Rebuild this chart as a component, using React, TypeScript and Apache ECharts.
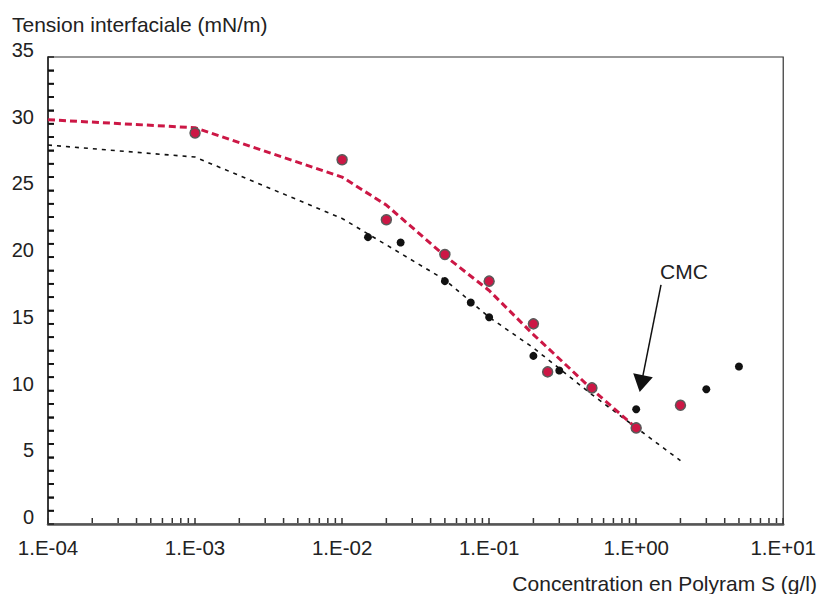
import React, { useEffect, useRef } from "react";
import * as echarts from "echarts";

// Measured points (concentration g/l, interfacial tension mN/m)
const redConc = [0.001, 0.01, 0.02, 0.05, 0.1, 0.2, 0.25, 0.5, 1, 2];
const redTension = [29.3, 27.3, 22.8, 20.2, 18.2, 15.0, 11.4, 10.2, 7.2, 8.9];
const blackConc = [0.015, 0.025, 0.05, 0.075, 0.1, 0.2, 0.3, 1, 3, 5];
const blackTension = [21.5, 21.1, 18.2, 16.6, 15.5, 12.6, 11.5, 8.6, 10.1, 11.8];

// Fitted curves
const redFitConc = [0.0001, 0.001, 0.01, 0.02, 0.05, 0.1, 0.2, 0.5, 1];
const redFitTension = [30.3, 29.7, 26.0, 23.9, 20.1, 17.5, 14.2, 10.1, 7.2];
const blackFitConc = [0.0001, 0.001, 0.01, 0.05, 0.1, 0.2, 0.5, 2];
const blackFitTension = [28.4, 27.5, 22.9, 18.3, 15.5, 13.2, 9.7, 4.75];

// Axis
const xTickValues = [0.0001, 0.001, 0.01, 0.1, 1, 10];
const xTickLabels = ["1.E-04", "1.E-03", "1.E-02", "1.E-01", "1.E+00", "1.E+01"];

// CMC arrow (start, arrowhead centre) in data coordinates
const cmcArrowStart = [1.475, 17.92];
const cmcArrowEnd = [1.084, 10.52];

const FONT = "'Liberation Sans', Arial, Helvetica, sans-serif";
const RED = "#cc1745";
const INK = "#222";

const zip = (a: number[], b: number[]) => a.map((v, i) => [v, b[i]]);

const xMinorTicks: number[] = [];
for (let e = -4; e < 1; e++) {
  for (let m = 2; m <= 9; m++) xMinorTicks.push(m * Math.pow(10, e));
}
const yTicks: number[] = [];
for (let v = 1; v <= 34; v++) yTicks.push(v);

export default function App() {
  const ref = useRef<HTMLDivElement>(null);
  useEffect(() => {
    if (!ref.current) return;
    const chart = echarts.init(ref.current, null, { renderer: "svg" });
    chart.setOption({
      animation: false,
      backgroundColor: "#fff",
      textStyle: { fontFamily: FONT },
      title: {
        text: "Tension interfaciale (mN/m)",
        left: 12,
        top: 14,
        padding: 0,
        textStyle: { fontFamily: FONT, fontSize: 21, fontWeight: "normal", color: INK },
      },
      grid: {
        left: 48,
        right: 32,
        top: 57,
        bottom: 70,
        show: true,
        borderColor: "#333",
        borderWidth: 1.2,
        backgroundColor: "transparent",
      },
      xAxis: {
        type: "log",
        logBase: 10,
        min: 0.0001,
        max: 10,
        splitLine: { show: false },
        axisLine: { show: true, lineStyle: { color: "#555", width: 2.5 } },
        axisTick: { show: true, inside: true, length: 6, lineStyle: { color: "#333", width: 1.5 } },
        axisLabel: {
          margin: 13,
          fontSize: 20.5,
          color: INK,
          fontFamily: FONT,
          formatter: (v: number) => {
            const i = xTickValues.findIndex((t) => Math.abs(Math.log10(t) - Math.log10(v)) < 1e-6);
            return i >= 0 ? xTickLabels[i] : "";
          },
        },
      },
      yAxis: {
        type: "value",
        min: 0,
        max: 35,
        interval: 5,
        splitLine: { show: false },
        axisLine: { show: true, lineStyle: { color: "#222", width: 1.5 } },
        axisTick: { show: true, inside: true, length: 6, lineStyle: { color: "#222", width: 1.5 } },
        minorTick: { show: true, splitNumber: 5, length: 6, lineStyle: { color: "#222", width: 1.5 } },
        axisLabel: {
          margin: 14,
          fontSize: 20,
          color: INK,
          fontFamily: FONT,
          verticalAlign: "bottom",
          lineHeight: 14,
        },
      },
      graphic: [
        {
          type: "text",
          right: 2,
          top: 573,
          style: {
            text: "Concentration en Polyram S (g/l)",
            font: `21px ${FONT}`,
            fill: INK,
          },
        },
        {
          type: "text",
          left: 660,
          top: 261,
          style: { text: "CMC", font: `21px ${FONT}`, fill: INK },
        },
      ],
      series: [
        {
          type: "custom",
          silent: true,
          clip: false,
          z: 5,
          data: xMinorTicks.map((v) => [v, 0]),
          renderItem: (_p: any, api: any) => {
            const pt = api.coord([api.value(0), 0]);
            return {
              type: "line",
              shape: { x1: pt[0], y1: pt[1] - 1, x2: pt[0], y2: pt[1] - 6 },
              style: { stroke: "#333", lineWidth: 1.5 },
            };
          },
        },
        {
          type: "scatter",
          silent: true,
          clip: false,
          z: 6,
          data: yTicks.map((v) => [0.0001, v]),
          symbol: "rect",
          symbolSize: [6, 1.8],
          symbolOffset: [3, 0],
          itemStyle: { color: "#111", opacity: 1 },
        },
        {
          type: "line",
          data: zip(blackFitConc, blackFitTension),
          symbol: "none",
          lineStyle: { color: "#111", width: 1.6, type: [4, 5] },
          z: 2,
        },
        {
          type: "line",
          data: zip(redFitConc, redFitTension),
          symbol: "none",
          lineStyle: { color: RED, width: 3, type: [7, 4] },
          z: 3,
        },
        {
          type: "scatter",
          data: zip(blackConc, blackTension),
          symbol: "circle",
          symbolSize: 8,
          itemStyle: { color: "#111", opacity: 1 },
          z: 4,
        },
        {
          type: "scatter",
          data: zip(redConc, redTension),
          symbol: "circle",
          symbolSize: 10,
          itemStyle: { color: RED, borderColor: "#5a5a5a", borderWidth: 1.5, opacity: 1 },
          z: 4,
          markLine: {
            silent: true,
            animation: false,
            label: { show: false },
            lineStyle: { color: "#111", width: 1.5, type: "solid" },
            symbol: ["none", "triangle"],
            symbolSize: [20, 17],
            data: [[{ coord: cmcArrowStart }, { coord: cmcArrowEnd }]],
          },
        },
      ],
    });
    return () => chart.dispose();
  }, []);
  return (
    <div
      ref={ref}
      style={{ position: "absolute", left: 0, top: 0, width: 819, height: 594 }}
    />
  );
}
